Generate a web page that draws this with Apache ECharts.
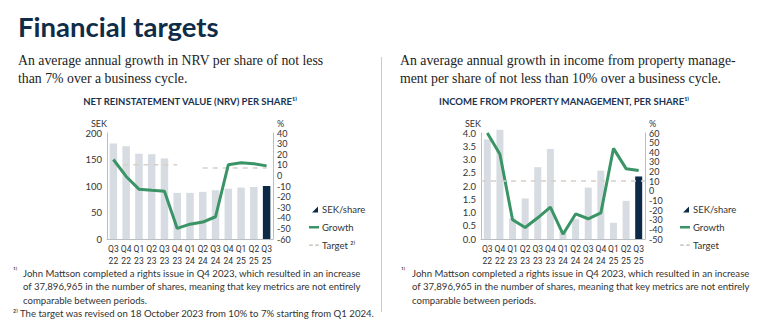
<!DOCTYPE html>
<html><head><meta charset="utf-8">
<script src="https://cdn.jsdelivr.net/npm/echarts@6/dist/echarts.min.js"></script>
<style>html,body{margin:0;padding:0;background:#fff}#c{width:768px;height:324px}</style>
</head><body><div id="c"></div>
<script>
const categories = ['Q3\n22','Q4\n22','Q1\n23','Q2\n23','Q3\n23','Q4\n23','Q1\n24','Q2\n24','Q3\n24','Q4\n24','Q1\n25','Q2\n25','Q3\n25'];
const nrvSek = [180,175,161,160,152,87,87,89,92,95,97,98,100];
const nrvGrowth = [15,-1,-13,-14,-15,-50,-46,-44,-39,10,12,11,9];
const nrvTarget = [10,10,10,10,10,10,null,7,7,7,7,7,7];
const incSek = [3.76,4.12,0.78,1.53,2.71,3.40,0.28,0.75,1.94,2.58,0.61,1.44,2.36];
const incGrowth = [60,38,-30,-38,-28,-17,-45,-24,-29,-23,44,23,21];
const incTarget = 10;
const nrvLeftTicks = {min:0,max:200,interval:50};
const nrvRightTicks = {min:-60,max:40,interval:10};
const incLeftTicks = {min:0,max:4,interval:0.5};
const incRightTicks = {min:-50,max:60,interval:10};

const NAVY = '#0c2a47', GREY_BAR = '#d6dce1', GREEN = '#3a9466', TARGET = '#d9d0c7', TXT = '#333';
const FONT = 'Lato';
const lastNavy = (arr) => arr.map((v,i)=> i===arr.length-1 ? {value:v,itemStyle:{color:NAVY}} : v);
const axisLine = {show:true,lineStyle:{color:'#b8bec4',width:1}};
const lbl = {color:TXT,fontSize:9.5,fontFamily:FONT,showMinLabel:true,showMaxLabel:true};
const lblR = {color:TXT,fontSize:9,fontFamily:FONT,showMinLabel:true,showMaxLabel:true};

const chart = echarts.init(document.getElementById('c'), null, {renderer:'svg'});
// icons drawn in a 10x7 box (tiny corner dots keep the box)
const triIcon = 'path://M0,0 L0.01,0 L0,0.01 Z M2,7 L8,1 L8,7 Z';
const lineIcon = 'path://M0,0 L0.01,0 L0,0.01 Z M0,2.5 L10,2.5 L10,5 L0,5 Z M0,7 L0.01,7 L0,6.99 Z';
const dashIcon = 'path://M0,0 L0.01,0 L0,0.01 Z M0,3 L3.5,3 L3.5,4.2 L0,4.2 Z M6,3 L9.5,3 L9.5,4.2 L6,4.2 Z M0,7 L0.01,7 L0,6.99 Z';
function legend(left, tgtName){
  return {left:left, top:199, orient:'vertical', itemWidth:10, itemHeight:7, itemGap:8,
    textStyle:{color:TXT,fontSize:9.5,fontFamily:FONT,padding:[0,0,0,-2]},
    formatter: n => n==='Target' ? tgtName : n,
    data:[{name:'SEK/share',icon:triIcon,itemStyle:{color:NAVY}},
          {name:'Growth',icon:lineIcon,itemStyle:{color:GREEN}},
          {name:'Target',icon:dashIcon,itemStyle:{color:'#bdb5ad'}}]};
}
const xlbl = {color:TXT,fontSize:8.6,fontFamily:'Roboto',margin:4,lineHeight:12,interval:0};
const opt = {
  animation:false,
  grid:[{left:107,top:133,width:166,height:106},{left:481,top:133,width:164,height:106}],
  legend:[legend(304,'Target ²⁾'), legend(675,'Target')],
  xAxis:[0,1].map(g=>({type:'category',gridIndex:g,data:categories,axisLine:axisLine,axisTick:{show:false},axisLabel:xlbl})),
  yAxis:[
    Object.assign({type:'value',gridIndex:0,position:'left',axisLine:axisLine,splitLine:{show:false},axisTick:{show:false},
      name:'SEK',nameLocation:'end',nameGap:5,nameTextStyle:{color:TXT,fontSize:9,fontFamily:FONT,align:'right'},axisLabel:Object.assign({},lbl,{margin:5})},nrvLeftTicks),
    Object.assign({type:'value',gridIndex:0,position:'right',axisLine:axisLine,splitLine:{show:false},axisTick:{show:false},
      name:'%',nameLocation:'end',nameGap:5,nameTextStyle:{color:TXT,fontSize:9,fontFamily:FONT,align:'left',padding:[0,0,0,4]},axisLabel:Object.assign({},lblR,{margin:4})},nrvRightTicks),
    Object.assign({type:'value',gridIndex:1,position:'left',axisLine:axisLine,splitLine:{show:false},axisTick:{show:false},
      name:'SEK',nameLocation:'end',nameGap:5,nameTextStyle:{color:TXT,fontSize:9,fontFamily:FONT,align:'right'},axisLabel:Object.assign({},lbl,{margin:5,formatter:v=>v.toFixed(1)})},incLeftTicks),
    Object.assign({type:'value',gridIndex:1,position:'right',axisLine:axisLine,splitLine:{show:false},axisTick:{show:false},
      name:'%',nameLocation:'end',nameGap:5,nameTextStyle:{color:TXT,fontSize:9,fontFamily:FONT,align:'left',padding:[0,0,0,4]},axisLabel:Object.assign({},lblR,{margin:4})},incRightTicks)
  ],
  series:[
    {name:'SEK/share',type:'bar',xAxisIndex:0,yAxisIndex:0,data:lastNavy(nrvSek),barWidth:7.5,itemStyle:{color:GREY_BAR},clip:false},
    {name:'Target',type:'line',xAxisIndex:0,yAxisIndex:1,data:nrvTarget,symbol:'none',lineStyle:{color:TARGET,width:1.5,type:[5,5]},itemStyle:{color:TARGET}},
    {name:'Growth',type:'line',xAxisIndex:0,yAxisIndex:1,data:nrvGrowth,symbol:'none',lineStyle:{color:GREEN,width:3},itemStyle:{color:GREEN}},
    {name:'SEK/share',type:'bar',xAxisIndex:1,yAxisIndex:2,data:lastNavy(incSek),barWidth:7,itemStyle:{color:GREY_BAR},clip:false},
    {name:'Target',type:'line',xAxisIndex:1,yAxisIndex:3,data:[],symbol:'none',lineStyle:{color:TARGET,width:1.5,type:[5,5]},itemStyle:{color:TARGET},
      markLine:{silent:true,symbol:'none',label:{show:false},lineStyle:{color:TARGET,width:1.5,type:[5,5]},data:[{yAxis:incTarget}]}},
    {name:'Growth',type:'line',xAxisIndex:1,yAxisIndex:3,data:incGrowth,symbol:'none',lineStyle:{color:GREEN,width:3},itemStyle:{color:GREEN}}
  ],
  graphic:[
    {type:'text',x:18,y:12,style:{text:'Financial targets',font:'bold 27.5px Lato',fill:'#0f2c48'}},
    {type:'text',x:18,y:51,style:{text:'An average annual growth in NRV per share of not less\nthan 7% over a business cycle.',font:'13.8px "Liberation Serif"',fill:'#222',lineHeight:18}},
    {type:'text',x:400,y:51,style:{text:'An average annual growth in income from property manage-\nment per share of not less than 10% over a business cycle.',font:'13.8px "Liberation Serif"',fill:'#222',lineHeight:18}},
    {type:'text',x:190,y:96,style:{text:'NET REINSTATEMENT VALUE (NRV) PER SHARE¹⁾',font:'bold 9.5px Lato',fill:'#1a3350',align:'center',textAlign:'center'}},
    {type:'text',x:564,y:96,style:{text:'INCOME FROM PROPERTY MANAGEMENT, PER SHARE¹⁾',font:'bold 9.5px Lato',fill:'#1a3350',align:'center',textAlign:'center'}},
    {type:'line',shape:{x1:381.5,y1:57,x2:381.5,y2:312},style:{stroke:'#c8cbd0',lineWidth:1}},
    {type:'text',x:13,y:266,style:{text:'¹⁾',font:'8.5px Lato',fill:TXT}},
    {type:'text',x:23,y:267,style:{text:'John Mattson completed a rights issue in Q4 2023, which resulted in an increase\nof 37,896,965 in the number of shares, meaning that key metrics are not entirely\ncomparable between periods.',font:'9.6px Lato',fill:TXT,lineHeight:13.3}},
    {type:'text',x:13,y:308,style:{text:'²⁾ The target was revised on 18 October 2023 from 10% to 7% starting from Q1 2024.',font:'9.6px Lato',fill:TXT}},
    {type:'text',x:401,y:266,style:{text:'¹⁾',font:'8.5px Lato',fill:TXT}},
    {type:'text',x:412,y:267,style:{text:'John Mattson completed a rights issue in Q4 2023, which resulted in an increase\nof 37,896,965 in the number of shares, meaning that key metrics are not entirely\ncomparable between periods.',font:'9.6px Lato',fill:TXT,lineHeight:13.3}}
  ]
};
chart.setOption(opt);
</script></body></html>
